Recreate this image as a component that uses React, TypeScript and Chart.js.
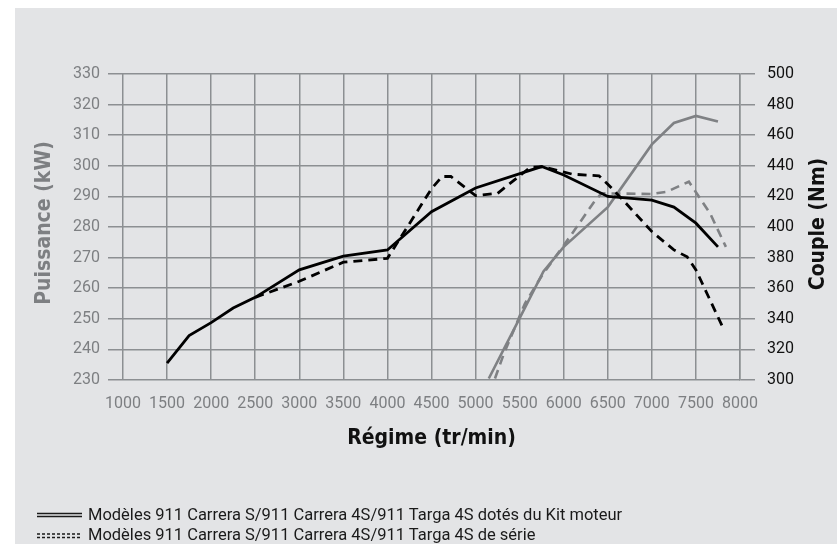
import { useEffect, useRef } from "react";
import { Chart, registerables } from "chart.js";

Chart.register(...registerables);

// ---- data ----
const rpmMin = 1000;
const rpmMax = 8000;
const rpmStep = 500;

const powerMin = 230;
const powerMax = 330;
const powerStep = 10;

const torqueMin = 300;
const torqueMax = 500;
const torqueStep = 20;

// Couple (Nm) — avec Kit moteur (noir, plein)
const kitTorqueRpm = [1500, 1750, 2000, 2250, 2500, 3000, 3500, 4000, 4500, 5000, 5750, 6000, 6500, 7000, 7250, 7500, 7750];
const kitTorqueNm = [311, 329, 337.5, 347, 354, 372, 381, 385, 410, 425.5, 439.5, 434, 420, 417.5, 413, 402.5, 387];

// Couple (Nm) — de série (noir, tirets)
const serieTorqueRpm = [2500, 3000, 3500, 4000, 4500, 4620, 4720, 5000, 5250, 5620, 5750, 6100, 6400, 6500, 6650, 7000, 7250, 7400, 7500, 7800];
const serieTorqueNm = [354, 364.5, 377, 379.5, 425, 433, 433, 420.5, 422, 439, 439.5, 434.5, 433.5, 428, 419, 397, 385, 380.5, 372, 335];

// Puissance (kW) — avec Kit moteur (gris, plein)
const kitPowerRpm = [5150, 5470, 5770, 6000, 6500, 7000, 7250, 7500, 7750];
const kitPowerKw = [230.5, 248.5, 265.5, 273.5, 286.5, 307, 314, 316.3, 314.5];

// Puissance (kW) — de série (gris, tirets)
const seriePowerRpm = [5220, 5320, 5560, 5750, 6075, 6340, 6430, 7000, 7170, 7420, 7660, 7840];
const seriePowerKw = [230.5, 238.5, 255, 264, 277, 288, 291, 290.8, 291.5, 294.8, 284.5, 273.5];

const xTitle = "Régime (tr/min)";
const leftTitle = "Puissance (kW)";
const rightTitle = "Couple (Nm)";
const legendLabels = [
  "Modèles 911 Carrera S/911 Carrera 4S/911 Targa 4S dotés du Kit moteur",
  "Modèles 911 Carrera S/911 Carrera 4S/911 Targa 4S de série",
];

// ---- styles ----
const BG = "#e3e4e6";
const GRID = "#8c8f92";
const GRAY_TEXT = "#7d7f82";
const BLACK = "#000000";
const GRAY_LINE = "#7f8184";
const TICK_FONT = "Roboto";
const TITLE_FONT = '"DejaVu Sans Condensed", "DejaVu Sans"';

const toPoints = (xs: number[], ys: number[]) => xs.map((x, i) => ({ x, y: ys[i] }));

const titlesPlugin = {
  id: "customTitles",
  afterDraw(chart: any) {
    const { ctx, chartArea } = chart;
    const midY = (chartArea.top + chartArea.bottom) / 2;
    const midX = (chartArea.left + chartArea.right) / 2;
    ctx.save();
    ctx.font = `bold 21px ${TITLE_FONT}`;
    ctx.textAlign = "center";
    ctx.textBaseline = "middle";
    // left
    ctx.save();
    ctx.translate(chartArea.left - 78, midY - 4);
    ctx.rotate(-Math.PI / 2);
    ctx.fillStyle = GRAY_TEXT;
    ctx.fillText(leftTitle, 0, 0);
    ctx.restore();
    // right
    ctx.save();
    ctx.translate(chartArea.right + 79, midY - 3);
    ctx.rotate(-Math.PI / 2);
    ctx.fillStyle = "#111111";
    ctx.fillText(rightTitle, 0, 0);
    ctx.restore();
    // bottom
    ctx.fillStyle = "#111111";
    ctx.fillText(xTitle, midX, chartArea.bottom + 59);
    ctx.restore();
  },
};

export default function App() {
  const canvasRef = useRef<HTMLCanvasElement | null>(null);

  useEffect(() => {
    if (!canvasRef.current) return;
    const chart = new Chart(canvasRef.current, {
      type: "line",
      data: {
        datasets: [
          {
            label: "Couple Kit moteur",
            data: toPoints(kitTorqueRpm, kitTorqueNm),
            yAxisID: "yR",
            borderColor: BLACK,
            borderWidth: 2.8,
            pointRadius: 0,
            tension: 0,
          },
          {
            label: "Couple série",
            data: toPoints(serieTorqueRpm, serieTorqueNm),
            yAxisID: "yR",
            borderColor: BLACK,
            borderWidth: 2.8,
            borderDash: [9, 6],
            pointRadius: 0,
            tension: 0,
          },
          {
            label: "Puissance Kit moteur",
            data: toPoints(kitPowerRpm, kitPowerKw),
            yAxisID: "y",
            borderColor: GRAY_LINE,
            borderWidth: 2.6,
            pointRadius: 0,
            tension: 0,
          },
          {
            label: "Puissance série",
            data: toPoints(seriePowerRpm, seriePowerKw),
            yAxisID: "y",
            borderColor: GRAY_LINE,
            borderWidth: 2.6,
            borderDash: [9, 6],
            pointRadius: 0,
            tension: 0,
          },
        ],
      },
      options: {
        animation: false,
        responsive: false,
        maintainAspectRatio: false,
        layout: { padding: { left: 0, right: 0, top: 66, bottom: 100 } },
        plugins: {
          legend: { display: false },
          tooltip: { enabled: false },
        },
        scales: {
          x: {
            type: "linear",
            min: rpmMin,
            max: rpmMax,
            ticks: {
              stepSize: rpmStep,
              color: GRAY_TEXT,
              font: { family: TICK_FONT, size: 16 },
              padding: 14,
              maxRotation: 0,
              autoSkip: false,
              callback: (v: any) => String(v),
            },
            grid: { color: GRID, lineWidth: 1.5, drawTicks: false },
            border: { display: false },
            afterFit: (s: any) => {
              s.height = 64;
            },
          },
          y: {
            type: "linear",
            position: "left",
            min: powerMin,
            max: powerMax,
            ticks: {
              stepSize: powerStep,
              color: GRAY_TEXT,
              font: { family: TICK_FONT, size: 16 },
              padding: 8,
            },
            grid: { color: GRID, lineWidth: 1.5, tickLength: 15 },
            border: { display: false },
            afterFit: (s: any) => {
              s.width = 108;
            },
          },
          yR: {
            type: "linear",
            position: "right",
            min: torqueMin,
            max: torqueMax,
            ticks: {
              stepSize: torqueStep,
              color: "#111111",
              font: { family: TICK_FONT, size: 16 },
              padding: 12,
            },
            grid: { color: GRID, lineWidth: 1.5, tickLength: 15, drawOnChartArea: false },
            border: { display: true, color: GRID, width: 1.5 },
            afterFit: (s: any) => {
              s.width = 97;
            },
          },
        },
      },
      plugins: [titlesPlugin],
    });
    return () => chart.destroy();
  }, []);

  return (
    <div
      style={{
        position: "fixed",
        left: 15,
        top: 8,
        width: 822,
        height: 536,
        background: BG,
        overflow: "hidden",
      }}
    >
      <canvas ref={canvasRef} width={822} height={536} style={{ display: "block", width: 822, height: 536 }} />
      <div
        style={{
          position: "absolute",
          left: 22,
          top: 497,
          fontFamily: TICK_FONT,
          fontSize: 16.5,
          lineHeight: "20px",
          color: "#1a1a1a",
          whiteSpace: "nowrap",
        }}
      >
        <div style={{ display: "flex", alignItems: "center", height: 20 }}>
          <svg width={45} height={20} style={{ display: "block" }}>
            <line x1={0} x2={45} y1={8.5} y2={8.5} stroke="#1a1a1a" strokeWidth={1.3} />
            <line x1={0} x2={45} y1={11.5} y2={11.5} stroke="#1a1a1a" strokeWidth={1.3} />
          </svg>
          <span style={{ marginLeft: 6 }}>{legendLabels[0]}</span>
        </div>
        <div style={{ display: "flex", alignItems: "center", height: 20 }}>
          <svg width={45} height={20} style={{ display: "block" }}>
            <line x1={0} x2={45} y1={9} y2={9} stroke="#1a1a1a" strokeWidth={1.3} strokeDasharray="3 2" />
            <line x1={0} x2={45} y1={12.5} y2={12.5} stroke="#1a1a1a" strokeWidth={1.3} strokeDasharray="3 2" />
          </svg>
          <span style={{ marginLeft: 6 }}>{legendLabels[1]}</span>
        </div>
      </div>
    </div>
  );
}
